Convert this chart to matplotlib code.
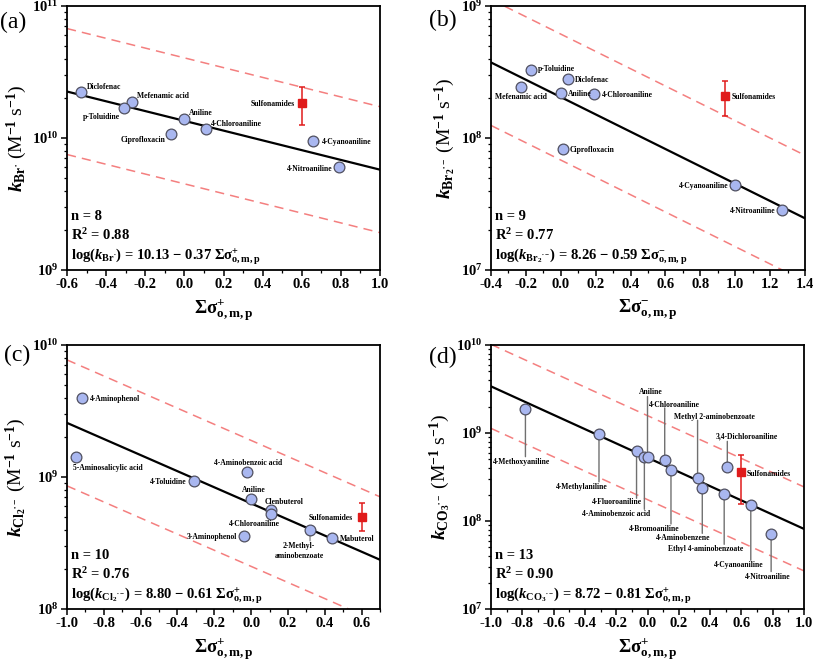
import numpy as np
import matplotlib
matplotlib.use("Agg")
import matplotlib.pyplot as plt
from matplotlib.ticker import LogLocator, MultipleLocator, FormatStrFormatter, NullFormatter

plt.rcParams['font.family'] = ['Liberation Serif', 'DejaVu Serif']
plt.rcParams['font.weight'] = 'bold'
plt.rcParams['mathtext.fontset'] = 'custom'
plt.rcParams['mathtext.rm'] = 'Liberation Serif:bold'
plt.rcParams['mathtext.it'] = 'Liberation Serif:italic:bold'
plt.rcParams['mathtext.bf'] = 'Liberation Serif:bold'
plt.rcParams['mathtext.default'] = 'rm'
plt.rcParams['axes.unicode_minus'] = False

# ---- data: (a) Br radical ----
a_names = ["Diclofenac", "Mefenamic acid", "p-Toluidine", "Aniline", "4-Chloroaniline",
           "Ciprofloxacin", "4-Cyanoaniline", "4-Nitroaniline"]
a_sigma = [-0.53, -0.27, -0.31, 0.0, 0.11, -0.07, 0.66, 0.79]
a_k = [2.22e10, 1.86e10, 1.70e10, 1.39e10, 1.17e10, 1.08e10, 9.55e9, 6.0e9]
a_sulfa = [0.6, 1.85e10, 2.45e10, 1.26e10]  # x, y, upper, lower
a_fit = [10.13, -0.37]

# ---- data: (b) Br2 radical anion ----
b_names = ["p-Toluidine", "Diclofenac", "Mefenamic acid", "Aniline", "4-Chloroaniline",
           "Ciprofloxacin", "4-Cyanoaniline", "4-Nitroaniline"]
b_sigma = [-0.17, 0.04, -0.23, 0.0, 0.19, 0.01, 1.0, 1.27]
b_k = [3.3e8, 2.78e8, 2.45e8, 2.19e8, 2.14e8, 8.2e7, 4.37e7, 2.85e7]
b_sulfa = [0.94, 2.08e8, 2.7e8, 1.46e8]
b_fit = [8.31, -0.656]

# ---- data: (c) Cl2 radical anion ----
c_names = ["4-Aminophenol", "5-Aminosalicylic acid", "4-Toluidine", "4-Aminobenzoic acid",
           "Aniline", "Clenbuterol", "4-Chloroaniline", "3-Aminophenol",
           "2-Methyl-\naminobenzoate", "Mabuterol"]
c_sigma = [-0.92, -0.95, -0.31, -0.02, 0.0, 0.11, 0.11, -0.04, 0.32, 0.44]
c_k = [3.94e9, 1.41e9, 9.4e8, 1.09e9, 6.8e8, 5.6e8, 5.2e8, 3.58e8, 3.97e8, 3.45e8]
c_sulfa = [0.6, 5.0e8, 6.3e8, 3.88e8]
c_fit = [8.80, -0.61]

# ---- data: (d) CO3 radical anion ----
d_names = ["4-Methoxyaniline", "4-Methylaniline", "4-Fluoroaniline", "4-Aminobenzoic acid",
           "Aniline", "4-Chloroaniline", "4-Bromoaniline", "Methyl 2-aminobenzoate",
           "4-Aminobenzene", "Ethyl 4-aminobenzoate", "3,4-Dichloroaniline",
           "4-Cyanoaniline", "4-Nitroaniline"]
d_sigma = [-0.78, -0.31, -0.07, -0.02, 0.0, 0.11, 0.15, 0.32, 0.35, 0.49, 0.51, 0.66, 0.79]
d_k = [1.89e9, 9.8e8, 6.2e8, 5.3e8, 5.4e8, 4.94e8, 3.8e8, 3.06e8, 2.35e8, 2.01e8,
       4.07e8, 1.51e8, 7.2e7]
d_sulfa = [0.6, 3.57e8, 5.6e8, 1.58e8]
d_fit = [8.72, -0.81]

# label placement (offset pixels): dx, dy, ha
a_lab = [(6, 5, 'left'), (5, 6, 'left'), (-4, -9, 'right'), (5, 6, 'left'), (5, 5, 'left'),
         (-5, -6, 'right'), (8, -1, 'left'), (-6, -2, 'right')]
b_lab = [(7, 1, 'left'), (7, -1, 'left'), (0, -10, 'center'), (7, -1, 'left'), (8, -1, 'left'),
         (7, -1, 'left'), (-7, -1, 'right'), (-7, -1, 'right')]
c_lab = [(8, -1, 'left'), (-3, -11, 'left'), (-7, -1, 'right'), (1, 9, 'center'),
         (3, 9, 'center'), (-7, 8, 'left'), (-17, -10, 'center'), (-7, -1, 'right'),
         (-11, -21, 'center'), (8, -1, 'left')]
# (d): dx, dy of label centre, end of leader line
d_lab = [(-4, -53, -48), (-17, -53, -48), (-20, -51, -47), (-28, -57, -52), (3, 65, 60),
         (10, 55, 52), (-17, -59, -54), (17, 61, 58), (-19, -50, -45), (-19, -55, -50),
         (19, 31, 26), (-12, -60, -55), (-3, -43, -38)]

BAND = np.log10(3)
FACE = '#A9B7F0'
EDGE = '#505060'
RED = '#E01B1B'
DASH = '#F47F7F'
LABEL_FS = 5.5

fig = plt.figure(figsize=(8.13, 6.61), dpi=100)
W, H = 813.0, 661.0


def make_axes(l, t, r, b):
    return fig.add_axes([l / W, 1 - b / H, (r - l) / W, (b - t) / H])


def setup(ax, xlim, ylim, ylabel, xlabel):
    ax.set_yscale('log')
    ax.set_xlim(*xlim)
    ax.set_ylim(*ylim)
    ax.xaxis.set_major_locator(MultipleLocator(0.2))
    ax.xaxis.set_minor_locator(MultipleLocator(0.1))
    ax.xaxis.set_major_formatter(FormatStrFormatter('%.1f'))
    ax.yaxis.set_major_locator(LogLocator(base=10, numticks=10))
    ax.yaxis.set_minor_locator(LogLocator(base=10, subs=np.arange(2, 10), numticks=20))
    ax.yaxis.set_minor_formatter(NullFormatter())
    ax.tick_params(which='major', length=4, width=1.1, labelsize=10.5, pad=2)
    ax.tick_params(which='minor', length=2.3, width=0.9)
    for s in ax.spines.values():
        s.set_linewidth(1.3)
    ax.set_ylabel(ylabel, fontsize=14, labelpad=2)
    ax.set_xlabel(xlabel, fontsize=13.5, labelpad=4)


def lines(ax, fit, xlim):
    xs = np.array(xlim)
    ys = fit[0] + fit[1] * xs
    ax.plot(xs, 10 ** ys, color='black', lw=1.6, zorder=2)
    ax.plot(xs, 10 ** (ys + BAND), color=DASH, lw=1.1, dashes=(6, 4), zorder=1)
    ax.plot(xs, 10 ** (ys - BAND), color=DASH, lw=1.1, dashes=(6, 4), zorder=1)


def points(ax, x, y, sulfa):
    ax.scatter(x, y, s=60, facecolor=FACE, edgecolor=EDGE, linewidth=0.9, zorder=4)
    ax.errorbar([sulfa[0]], [sulfa[1]],
                yerr=[[sulfa[1] - sulfa[3]], [sulfa[2] - sulfa[1]]],
                fmt='s', color=RED, ms=6, elinewidth=1.1, capsize=2.5, capthick=1.1, zorder=5)


def labels(ax, names, x, y, lab):
    for n, xi, yi, (dx, dy, ha) in zip(names, x, y, lab):
        ax.annotate(n, (xi, yi), xytext=(dx, dy), textcoords='offset pixels',
                    ha=ha, va='center', fontsize=LABEL_FS, multialignment='center', zorder=6)


def sulfa_label(ax, sulfa, dx, dy, ha):
    ax.annotate("Sulfonamides", (sulfa[0], sulfa[1]), xytext=(dx, dy), textcoords='offset pixels',
                ha=ha, va='center', fontsize=LABEL_FS)


def stats(ax, n, r2, eq):
    ax.text(0.013, 0.19, "n = %d" % n, transform=ax.transAxes, fontsize=10.5, va='baseline')
    ax.text(0.013, 0.115, r"R$^{2}$ = " + r2, transform=ax.transAxes, fontsize=10.5, va='baseline')
    ax.text(0.013, 0.04, eq, transform=ax.transAxes, fontsize=10.5, va='baseline')


sig_plus = r"$\Sigma\sigma^{+}_{\mathrm{o,m,p}}$"
sig_minus = r"$\Sigma\sigma^{-}_{\mathrm{o,m,p}}$"

# (a)
ax = make_axes(67, 6, 380, 270)
setup(ax, (-0.6, 1.0), (1e9, 1e11),
      r"$\mathit{k}_{\mathrm{Br}^{\bullet}}$ (M$^{-1}$ s$^{-1}$)", sig_plus)
lines(ax, a_fit, (-0.6, 1.0))
points(ax, a_sigma, a_k, a_sulfa)
labels(ax, a_names, a_sigma, a_k, a_lab)
sulfa_label(ax, a_sulfa, -7, -1, 'right')
stats(ax, 8, "0.88", r"log($\mathit{k}_{\mathrm{Br}^{\bullet}}$) = 10.13 − 0.37 " + sig_plus)

# (b)
ax = make_axes(491, 6, 805, 270)
setup(ax, (-0.4, 1.4), (1e7, 1e9),
      r"$\mathit{k}_{\mathrm{Br_2}^{\bullet-}}$ (M$^{-1}$ s$^{-1}$)", sig_minus)
lines(ax, b_fit, (-0.4, 1.4))
points(ax, b_sigma, b_k, b_sulfa)
labels(ax, b_names, b_sigma, b_k, b_lab)
sulfa_label(ax, b_sulfa, 7, -1, 'left')
stats(ax, 9, "0.77", r"log($\mathit{k}_{\mathrm{Br_2}^{\bullet-}}$) = 8.26 − 0.59 " + sig_minus)

# (c)
ax = make_axes(67, 345, 380, 609)
setup(ax, (-1.0, 0.7), (1e8, 1e10),
      r"$\mathit{k}_{\mathrm{Cl_2}^{\bullet-}}$ (M$^{-1}$ s$^{-1}$)", sig_plus)
lines(ax, c_fit, (-1.0, 0.7))
points(ax, c_sigma, c_k, c_sulfa)
labels(ax, c_names, c_sigma, c_k, c_lab)
ax.annotate("", (c_sigma[8], c_k[8]), xytext=(0, -11), textcoords='offset pixels',
            arrowprops=dict(arrowstyle='-', color='#707070', lw=0.8, shrinkA=0, shrinkB=3.6),
            zorder=2)
sulfa_label(ax, c_sulfa, -9, -1, 'right')
stats(ax, 10, "0.76", r"log($\mathit{k}_{\mathrm{Cl_2}^{\bullet-}}$) = 8.80 − 0.61 " + sig_plus)

# (d)
ax = make_axes(491, 345, 804, 609)
setup(ax, (-1.0, 1.0), (1e7, 1e10),
      r"$\mathit{k}_{\mathrm{CO_3}^{\bullet-}}$ (M$^{-1}$ s$^{-1}$)", sig_plus)
lines(ax, d_fit, (-1.0, 1.0))
points(ax, d_sigma, d_k, d_sulfa)
for n, xi, yi, (dx, dy, ly) in zip(d_names, d_sigma, d_k, d_lab):
    ax.annotate("", (xi, yi), xytext=(0, ly), textcoords='offset pixels',
                arrowprops=dict(arrowstyle='-', color='#707070', lw=1.0, shrinkA=0, shrinkB=3.6),
                zorder=2)
    ax.annotate(n, (xi, yi), xytext=(dx, dy), textcoords='offset pixels',
                ha='center', va='center', fontsize=LABEL_FS, zorder=6)
sulfa_label(ax, d_sulfa, 5, -2, 'left')
stats(ax, 13, "0.90", r"log($\mathit{k}_{\mathrm{CO_3}^{\bullet-}}$) = 8.72 − 0.81 " + sig_plus)

# panel letters
for lab, px, py in [("(a)", 0, 22), ("(b)", 429, 20), ("(c)", 4, 355), ("(d)", 429, 357)]:
    fig.text(px / W, 1 - py / H, lab, fontsize=17, fontweight='normal', va='center', ha='left')

fig.savefig("out.png", dpi=100)
